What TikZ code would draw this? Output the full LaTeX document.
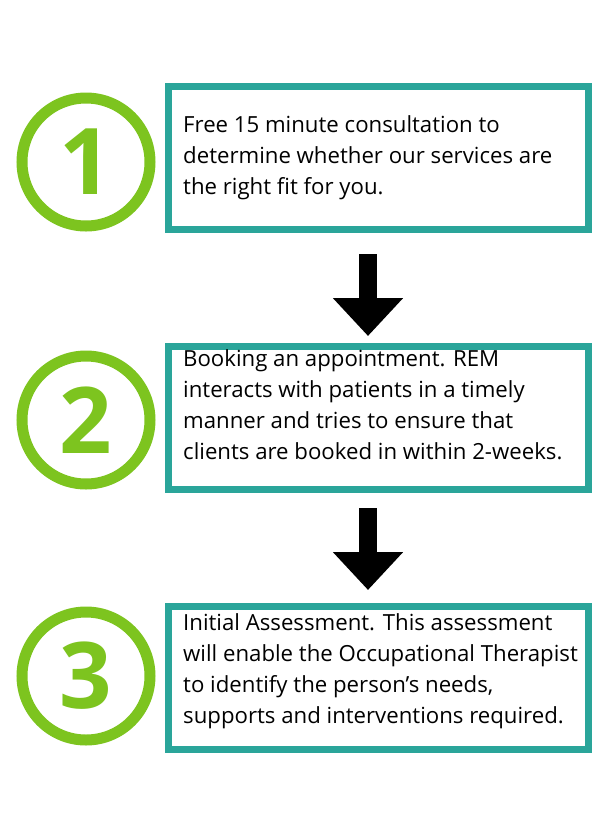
\documentclass[tikz,border=0pt]{standalone}
\usepackage{fontspec}
\setmainfont{Open Sans}
\usetikzlibrary{arrows.meta}
\definecolor{lime}{HTML}{7DC41F}
\definecolor{teal2}{HTML}{2AA59A}
\tikzset{
  numcirc/.style={circle,draw=lime,line width=11pt,minimum size=128pt,inner sep=0pt,text=lime,font=\fontsize{92}{92}\selectfont\bfseries},
  stepbox/.style={draw=teal2,line width=7pt,minimum width=420pt,minimum height=143pt,inner sep=0pt},
  steptext/.style={anchor=north west,align=left,font=\fontsize{22.2}{31}\selectfont,inner sep=0pt},
  flowarrow/.style={line width=18pt,-{Triangle[width=68pt,length=38pt]}}
}
\begin{document}
\begin{tikzpicture}[x=1pt,y=-1pt]
\useasboundingbox (0,0) rectangle (602,836);
\fill[white] (0,0) rectangle (602,836);
\node[numcirc] (c1) at (86,162) {1};
\node[numcirc] (c2) at (86,420) {2};
\node[numcirc] (c3) at (86,676) {3};
\node[stepbox] (b1) at (378,158) {};
\node[stepbox] (b2) at (378,418) {};
\node[stepbox] (b3) at (378,678) {};
\node[steptext] (t1) at (183,115) {Free 15 minute consultation to\\determine whether our services are\\the right fit for you.};
\node[steptext] (t2) at (183,349) {Booking an appointment. REM\\interacts with patients in a timely\\manner and tries to ensure that\\clients are booked in within 2-weeks.};
\node[steptext] (t3) at (183,613) {Initial Assessment. This assessment\\will enable the Occupational Therapist\\to identify the person’s needs,\\supports and interventions required.};
\coordinate (a1s) at (368,254);
\coordinate (a1e) at (368,336);
\coordinate (a2s) at (368,508);
\coordinate (a2e) at (368,590);
\draw[flowarrow] (a1s) -- (a1e);
\draw[flowarrow] (a2s) -- (a2e);
\end{tikzpicture}
\end{document}
